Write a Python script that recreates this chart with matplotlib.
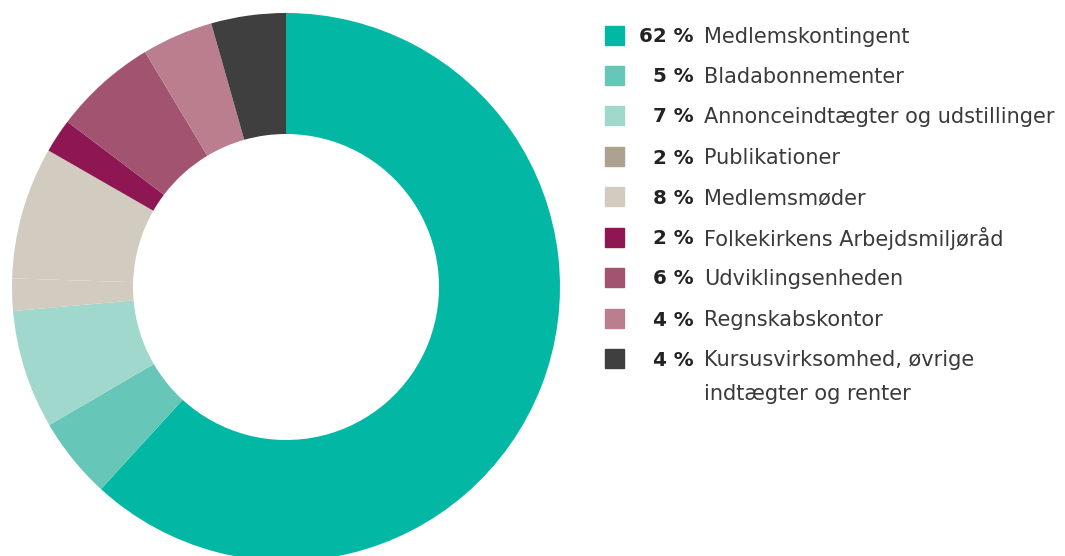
import matplotlib.pyplot as plt
from matplotlib.patches import Rectangle

# income split, clockwise from top
labels = ['Medlemskontingent', 'Bladabonnementer', 'Annonceindtægter og udstillinger',
          'Publikationer', 'Medlemsmøder', 'Folkekirkens Arbejdsmiljøråd',
          'Udviklingsenheden', 'Regnskabskontor',
          'Kursusvirksomhed, øvrige\nindtægter og renter']
pct_labels = [62, 5, 7, 2, 8, 2, 6, 4, 4]
# slice sizes as measured from the donut (unrounded)
shares = [61.8, 4.8, 7.0, 1.9, 7.8, 2.0, 6.1, 4.2, 4.4]
legend_colors = ['#02B8A5', '#66C6B8', '#A0D8CE', '#ADA290', '#D2CCC0',
                 '#8E1652', '#A2536F', '#BA7E8F', '#3F3F3F']
# in the donut the Publikationer slice is drawn in the light beige
slice_colors = ['#02B8A5', '#66C6B8', '#A0D8CE', '#D2CCC0', '#D2CCC0',
                '#8E1652', '#A2536F', '#BA7E8F', '#3F3F3F']

W, H = 1065, 556
fig = plt.figure(figsize=(W / 100, H / 100), dpi=100)

# donut: center (286, 287) px, outer radius 274 px
cx, cy, r = 286, 287, 274
ax = fig.add_axes([(cx - r) / W, (H - cy - r) / H, 2 * r / W, 2 * r / H])
ax.pie(shares, colors=slice_colors, startangle=90, counterclock=False,
       radius=1, wedgeprops=dict(width=121 / 274, linewidth=0))
ax.set_xlim(-1, 1)
ax.set_ylim(-1, 1)
ax.set_aspect('equal')
ax.axis('off')

# legend
font = 'DejaVu Sans'
row_y = [35, 75, 115, 156, 196, 237, 277, 318, 358]
for i, (lab, v, c) in enumerate(zip(labels, pct_labels, legend_colors)):
    y = row_y[i]
    fig.patches.append(Rectangle((605 / W, 1 - (y + 9.5) / H), 19 / W, 19 / H,
                                 transform=fig.transFigure, color=c))
    fig.text(694 / W, 1 - y / H, f'{v} %', ha='right', va='center_baseline',
             fontsize=14.3, fontweight='bold', color='#222222', family=font)
    for j, ln in enumerate(lab.split('\n')):
        fig.text(704 / W, 1 - (y + j * 34) / H, ln, ha='left', va='center_baseline',
                 fontsize=15, color='#3a3a3a', family=font)

fig.savefig('out.png', dpi=100)
